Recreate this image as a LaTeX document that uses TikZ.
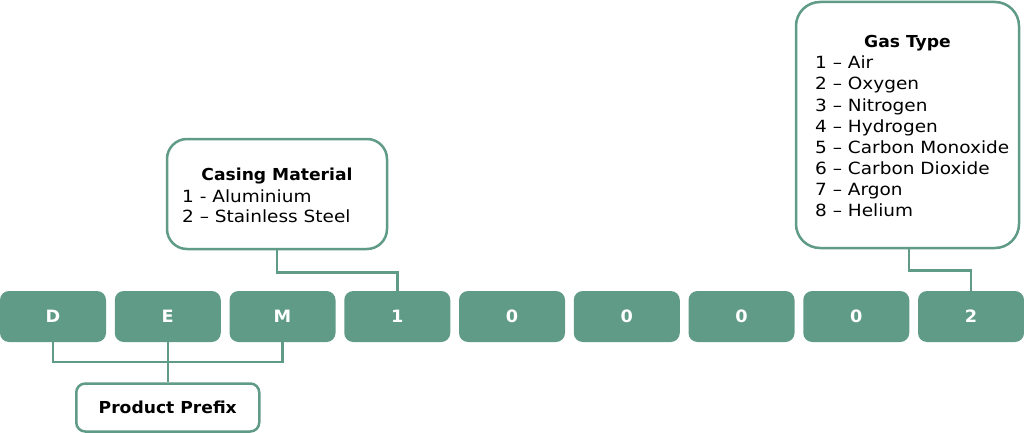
\documentclass[tikz,border=0pt]{standalone}
\usepackage{fontspec}
\setmainfont{DejaVu Sans}[FakeStretch=1.1]
\newfontfamily\boldfam{DejaVu Sans}[FakeStretch=1.04]
\definecolor{teal}{HTML}{5F9B87}
\tikzset{
  digit/.style={draw=none, fill=teal, rounded corners=9pt, minimum width=106pt, minimum height=51pt,
    inner sep=0pt, text=white, font=\boldfam\bfseries\fontsize{17}{20}\selectfont},
  infobox/.style={draw=teal, line width=2.5pt, fill=white, inner sep=0pt},
  conn/.style={draw=teal, line width=2.5pt},
  head/.style={anchor=base, inner sep=0pt, font=\boldfam\bfseries\fontsize{16.5}{20}\selectfont},
  item/.style={anchor=base west, inner sep=0pt, font=\fontsize{16.8}{20}\selectfont},
}
\begin{document}
\begin{tikzpicture}[x=1pt,y=-1pt]
\useasboundingbox (0,0) rectangle (1024,433);
% digit boxes
\foreach \t [count=\i from 0] in {D,E,M,1,0,0,0,0,2} {
  \node[digit] (b\i) at ({114.75*\i+53},316.5) {\t};
}
% casing material box
\node[infobox, rounded corners=20pt, minimum width=220pt, minimum height=110pt] (casing) at (277,194) {};
\node[head] (casingh) at (277,180) {Casing Material};
\node[item] (casing1) at (182,202) {1 - Aluminium};
\node[item] (casing2) at (182,222) {2 – Stainless Steel};
% gas type box
\node[infobox, rounded corners=24pt, minimum width=223pt, minimum height=246pt] (gas) at (907.5,125) {};
\node[head] (gash) at (907.5,48) {Gas Type};
\foreach \t [count=\j from 1] in {1 – Air,2 – Oxygen,3 – Nitrogen,4 – Hydrogen,5 – Carbon Monoxide,6 – Carbon Dioxide,7 – Argon,8 – Helium} {
  \node[item] (gas\j) at (815,{48+21*\j}) {\t};
}
% product prefix box
\node[infobox, rounded corners=9pt, minimum width=183pt, minimum height=48pt,
  font=\boldfam\bfseries\fontsize{16.5}{20}\selectfont] (prefix) at (167.75,407.5) {Product Prefix};
% connectors
\draw[conn] (casing.south) -- ++(0,22) -| (b3.north);
\draw[conn] ([xshift=1.5pt]gas.south) -- ++(0,21) -| (b8.north);
\coordinate (junction) at (b1.south |- 0,362);
\draw[conn] (b0.south) |- (junction) -| (b2.south);
\draw[conn] (b1.south) -- (prefix.north);
\end{tikzpicture}
\end{document}
